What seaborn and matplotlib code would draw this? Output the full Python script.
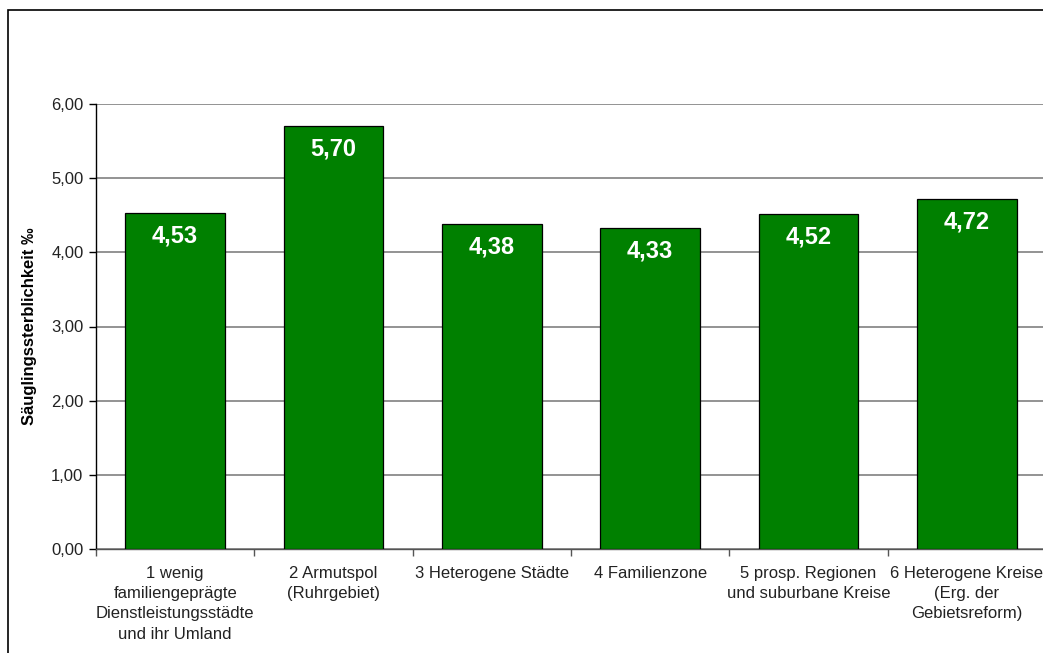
import matplotlib
matplotlib.use("Agg")
import matplotlib.pyplot as plt
import matplotlib.patches as mpatches
from matplotlib.ticker import FuncFormatter, FixedLocator
import seaborn as sns
import pandas as pd

categories = [
    "1 wenig\nfamiliengeprägte\nDienstleistungsstädte\nund ihr Umland",
    "2 Armutspol\n(Ruhrgebiet)",
    "3 Heterogene Städte",
    "4 Familienzone",
    "5 prosp. Regionen\nund suburbane Kreise",
    "6 Heterogene Kreise\n(Erg. der\nGebietsreform)",
]
values = [4.53, 5.70, 4.38, 4.33, 4.52, 4.72]
value_labels = ["4,53", "5,70", "4,38", "4,33", "4,52", "4,72"]
y_label = "Säuglingssterblichkeit ‰"

sns.set_theme(style="white")
plt.rcParams["font.family"] = ["Liberation Sans", "DejaVu Sans"]

df = pd.DataFrame({"cat": categories, "val": values})

fig = plt.figure(figsize=(10.43, 6.53), dpi=100)
ax = fig.add_axes([96 / 1043, 1 - 549 / 653, (1046 - 96) / 1043, (549 - 104) / 653])

sns.barplot(data=df, x="cat", y="val", color="#008000", saturation=1,
            width=0.63, edgecolor="black", linewidth=0.9, ax=ax, zorder=3)

ax.set_xlim(-0.5, len(categories) - 0.5)
ax.set_ylim(0, 6)
ax.yaxis.set_major_locator(FixedLocator([0, 1, 2, 3, 4, 5, 6]))
ax.yaxis.set_major_formatter(FuncFormatter(lambda v, p: f"{v:.2f}".replace(".", ",")))
ax.grid(axis="y", color="#808080", linewidth=1.2, zorder=0)
ax.set_axisbelow(True)

for s in ["top", "right"]:
    ax.spines[s].set_visible(False)
for s in ["left", "bottom"]:
    ax.spines[s].set_color("black")
    ax.spines[s].set_linewidth(1.0)
ax.spines["bottom"].set_color("#555555")

ax.tick_params(axis="y", which="major", left=True, length=5, width=1, color="black",
               labelsize=12, labelcolor="#222222", pad=4)
ax.tick_params(axis="x", which="major", bottom=False, labelsize=12, labelcolor="#222222", pad=6)
ax.set_xticks(range(len(categories)))
ax.set_xticklabels(categories, linespacing=1.45, va="top", ha="center")
# category boundary ticks
ax.set_xticks([i + 0.5 for i in range(-1, len(categories))], minor=True)
ax.tick_params(axis="x", which="minor", bottom=True, length=5, width=1, color="#555555")

ax.set_xlabel("")
ax.set_ylabel(y_label, fontsize=12, fontweight="bold", color="black", labelpad=10)

for i, (v, lab) in enumerate(zip(values, value_labels)):
    ax.annotate(lab, xy=(i, v), xytext=(0, -23), textcoords="offset pixels",
                ha="center", va="center", color="white", fontsize=17, fontweight="bold", zorder=5)

fig.patches.append(mpatches.Rectangle((8 / 1043, -0.1), 1.2, 1 - 10 / 653 + 0.1,
                                      transform=fig.transFigure, fill=False,
                                      edgecolor="black", linewidth=1.2))

fig.savefig("out.png", dpi=100)
